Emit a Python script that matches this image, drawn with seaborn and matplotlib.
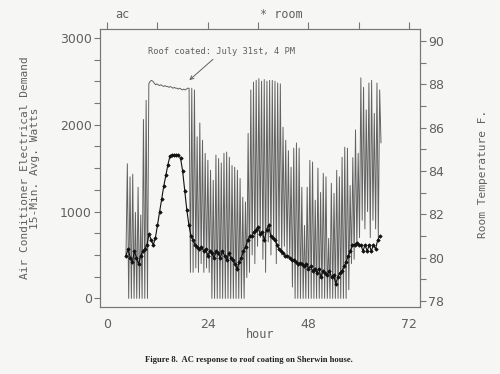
import numpy as np
import matplotlib
matplotlib.use("Agg")
import matplotlib.pyplot as plt
import seaborn as sns

# AC demand, 15-min avg watts, sampled every 0.32 h from hour 4.5
ac_seg_a = [500, 1550, 0, 1400, 0, 1430, 0, 990, 0, 1280, 0, 960, 0, 2060, 0, 2280, 0, 2470]
ac_plateau = [2500, 2510, 2500, 2480, 2460, 2470, 2460, 2450, 2460, 2450,
              2440, 2450, 2440, 2440, 2430, 2440, 2430, 2420, 2430, 2420,
              2420, 2410, 2420, 2410, 2400, 2410, 2400, 2410, 2420, 2420]
ac_seg_b = [300, 2420, 300, 2400, 350, 1860, 300, 2020, 400, 1820, 300, 1670, 350, 1590, 300, 1475, 0]
ac_seg_c = [1360, 0, 1650, 0, 1610, 0, 1560, 0, 1670, 0, 1685, 0, 1625, 0, 1530, 0,
            1510, 0, 1475, 0, 1380, 0, 1165, 0, 1110, 240, 1900]
ac_seg_d = [300, 2400, 500, 2490, 400, 2510, 600, 2530, 700, 2500, 450, 2520, 300,
            2500, 650, 2510, 500, 2510, 700, 2500, 400, 2480, 600, 2470, 500, 1970]
ac_seg_e = [600, 1820, 500, 1700, 450, 1510, 130, 1730, 0, 1790, 0, 1730, 0, 1280, 0, 840, 0, 1280]
ac_seg_f = [0, 1590, 0, 1570, 0, 1130, 0, 1500, 0, 1220, 0, 1440, 0, 1400, 0, 690,
            0, 1325, 0, 1210, 0, 1475, 0, 1400, 0, 1625, 0, 1740, 0, 1730, 100]
ac_seg_g = [1300, 400, 1620, 450, 1940, 600, 1670, 700, 2540, 900, 2430, 800,
            2170, 1000, 2480, 700, 2510, 900, 2130, 800, 2480, 700, 2400, 1790]
ac_start, ac_step = 4.5, 0.32

# room temperature (F), every 0.5 h from hour 4.5
room_day1 = [80.1, 80.4, 80.0, 79.8, 80.3, 80.0, 79.7, 80.1, 80.3, 80.4, 80.6,
             81.1, 80.8, 80.6, 80.9, 81.5, 82.1, 82.7, 83.3, 83.8, 84.3, 84.7,
             84.75, 84.75, 84.75, 84.75, 84.6, 84.0, 83.1, 82.2, 81.5, 81.0,
             80.8, 80.6, 80.5, 80.4, 80.5, 80.3, 80.4, 80.1, 80.3]
room_day2 = [80.2, 80.0, 80.3, 80.2, 80.0, 80.3, 80.1, 79.9, 80.2, 80.0, 79.9,
             79.7, 79.5, 79.8, 80.0, 80.3, 80.5, 80.8, 81.0, 81.0, 81.2, 81.3,
             81.4, 81.1, 81.2, 80.8, 81.3, 81.5, 81.0, 80.9, 80.8, 80.6, 80.4,
             80.3, 80.2, 80.1, 80.1, 80.0, 79.9, 79.9, 79.8, 79.7, 79.75, 79.7,
             79.6, 79.7]
room_day3 = [79.5, 79.6, 79.4, 79.5, 79.3, 79.5, 79.1, 79.4, 79.3, 79.2, 79.4,
             79.1, 79.2, 78.8, 79.1, 79.3, 79.4, 79.6, 79.8, 80.1, 80.3, 80.6,
             80.6, 80.7, 80.6, 80.6, 80.3, 80.6, 80.3, 80.6, 80.3, 80.6, 80.4,
             80.8, 81.0]
room_start, room_step = 4.5, 0.5

ac = np.array(ac_seg_a + ac_plateau + ac_seg_b + ac_seg_c + ac_seg_d + ac_seg_e + ac_seg_f + ac_seg_g)
ac_hours = ac_start + ac_step * np.arange(len(ac))
room = np.array(room_day1 + room_day2 + room_day3)
room_hours = room_start + room_step * np.arange(len(room))

sns.set_style("white")
ink = "#606060"
plt.rcParams["font.family"] = ["DejaVu Sans"]

fig = plt.figure(figsize=(5, 3.74), dpi=100, facecolor="#f6f6f4")
ax = fig.add_axes([0.2, 0.179, 0.64, 0.743])
ax.set_facecolor("#f6f6f4")
ax2 = ax.twinx()

sns.lineplot(x=ac_hours, y=ac, ax=ax, color="#626262", linewidth=0.7,
             estimator=None, sort=False)
sns.lineplot(x=room_hours, y=room, ax=ax2, color="#111111", linewidth=0.8,
             marker="D", markersize=1.8, markerfacecolor="#111111",
             markeredgecolor="#111111", markeredgewidth=0.5,
             estimator=None, sort=False)

ax.set_xlim(-1.7, 74.6)
ax.set_ylim(-100, 3100)
ax2.set_ylim(77.72, 90.55)

ax.set_xticks([0, 24, 48, 72])
ax.set_xticks([12, 36, 60], minor=True)
ax.set_yticks([0, 1000, 2000, 3000])
ax.set_yticks(np.arange(250, 3000, 250), minor=True)
ax2.set_yticks([78, 80, 82, 84, 86, 88, 90])
ax2.set_yticks([79, 81, 83, 85, 87, 89], minor=True)

for a in (ax, ax2):
    for s in a.spines.values():
        s.set_color("#777777")
        s.set_linewidth(0.8)
ax.tick_params(axis="x", which="both", direction="out", length=5, width=0.8,
               color="#777777", top=True, labeltop=False, labelsize=9, labelcolor=ink, pad=3)
ax.tick_params(axis="y", which="both", direction="out", length=4, width=0.8,
               color="#777777", left=True, labelsize=9, labelcolor=ink, pad=2)
ax2.tick_params(axis="y", which="both", direction="out", length=4, width=0.8,
                color="#777777", right=True, labelsize=9, labelcolor=ink, pad=2)
ax.set_xlabel("")
ax.set_ylabel("")
ax2.set_ylabel("")

mono = "DejaVu Sans Mono"
fig.text(0.06, 0.551, "Air Conditioner Electrical Demand\n15-Min. Avg. Watts",
         rotation=90, ha="center", va="center", family=mono, fontsize=8,
         color=ink, multialignment="center", linespacing=1.0)
fig.text(0.966, 0.535, "Room Temperature F.", rotation=90, ha="center", va="center",
         family=mono, fontsize=8, color=ink)
fig.text(0.52, 0.105, "hour", ha="center", va="center", family=mono, fontsize=8.5, color=ink)
fig.text(0.245, 0.962, "ac", ha="center", va="center", family=mono, fontsize=8.5, color=ink)
fig.text(0.563, 0.960, "* room", ha="center", va="center", family=mono, fontsize=8.5, color=ink)

ax.annotate("Roof coated: July 31st, 4 PM", xy=(19.6, 2513), xytext=(9.8, 2790),
            textcoords="data", ha="left", va="bottom", family=mono, fontsize=6.3,
            color=ink, arrowprops=dict(arrowstyle="->", color=ink, lw=0.7,
                                       shrinkA=0, shrinkB=0))

fig.text(0.497, 0.037, "Figure 8.  AC response to roof coating on Sherwin house.",
         ha="center", va="center", family="Liberation Serif", fontweight="bold",
         fontsize=6.2, color="#222222")

fig.savefig("out.png", dpi=100, facecolor=fig.get_facecolor())
